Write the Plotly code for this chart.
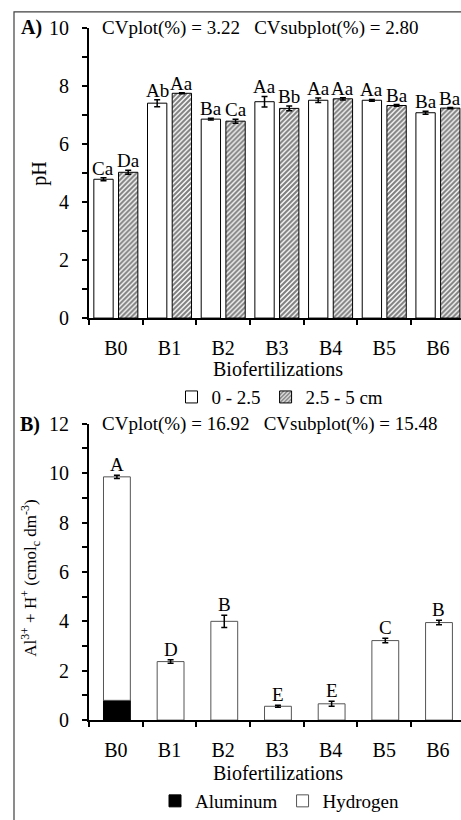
import plotly.graph_objects as go

categories = ["B0", "B1", "B2", "B3", "B4", "B5", "B6"]

# Panel A: pH
ph_0_25 = [4.78, 7.40, 6.85, 7.45, 7.50, 7.50, 7.07]
ph_0_25_err = [0.05, 0.12, 0.03, 0.18, 0.08, 0.03, 0.05]
ph_25_5 = [5.02, 7.74, 6.78, 7.22, 7.55, 7.32, 7.23]
ph_25_5_err = [0.07, 0.02, 0.07, 0.08, 0.04, 0.03, 0.02]
ph_letters_0_25 = ["Ca", "Ab", "Ba", "Aa", "Aa", "Aa", "Ba"]
ph_letters_25_5 = ["Da", "Aa", "Ca", "Bb", "Aa", "Ba", "Ba"]
ph_ticks = [0, 2, 4, 6, 8, 10]

# Panel B: Al3+ + H+
aluminum = [0.80, 0, 0, 0, 0, 0, 0]
hydrogen = [9.05, 2.37, 4.00, 0.56, 0.66, 3.22, 3.95]
total_err = [0.07, 0.07, 0.25, 0.04, 0.10, 0.09, 0.09]
acid_letters = ["A", "D", "B", "E", "E", "C", "B"]
acid_ticks = [0, 2, 4, 6, 8, 10, 12]

FONT = "Liberation Serif, Times New Roman, serif"
W, H = 461, 820

def px_x(p):
    return p / W

def px_y(p):
    return 1 - p / H

fig = go.Figure()

# style constants for grouped bars
bw = 0.36
off_a = -0.41
off_b = 0.05

fig.add_trace(go.Bar(
    x=categories, y=ph_0_25, name="0 - 2.5", xaxis="x", yaxis="y",
    width=bw, offset=off_a,
    marker=dict(color="white", line=dict(color="black", width=1)),
    error_y=dict(type="data", array=ph_0_25_err, color="black", thickness=1.5, width=3),
    legend="legend",
))
fig.add_trace(go.Bar(
    x=categories, y=ph_25_5, name="2.5 - 5 cm", xaxis="x", yaxis="y",
    width=bw, offset=off_b,
    marker=dict(color="white", line=dict(color="black", width=1),
                pattern=dict(shape="/", fgcolor="black", bgcolor="white", size=3.5, solidity=0.6)),
    error_y=dict(type="data", array=ph_25_5_err, color="black", thickness=1.5, width=3),
    legend="legend",
))

# Panel B bars
bw2 = 0.5
tot = [a + h for a, h in zip(aluminum, hydrogen)]
fig.add_trace(go.Bar(
    x=categories, y=aluminum, name="Aluminum", xaxis="x2", yaxis="y2",
    width=bw2, offset=-0.23,
    marker=dict(color="black", line=dict(color="black", width=1)),
    legend="legend2",
))
fig.add_trace(go.Bar(
    x=categories, y=hydrogen, base=aluminum, name="Hydrogen", xaxis="x2", yaxis="y2",
    width=bw2, offset=-0.23,
    marker=dict(color="white", line=dict(color="#555", width=1)),
    error_y=dict(type="data", array=total_err, color="black", thickness=1.5, width=3),
    legend="legend2",
))

annotations = []
for i in range(len(categories)):
    annotations.append(dict(
        x=i + off_a + bw / 2, y=ph_0_25[i] + ph_0_25_err[i], xref="x", yref="y",
        text=ph_letters_0_25[i], showarrow=False, yanchor="bottom",
        font=dict(family=FONT, size=19, color="black"), yshift=-3))
    annotations.append(dict(
        x=i + off_b + bw / 2, y=ph_25_5[i] + ph_25_5_err[i], xref="x", yref="y",
        text=ph_letters_25_5[i], showarrow=False, yanchor="bottom",
        font=dict(family=FONT, size=19, color="black"), yshift=-3))
    annotations.append(dict(
        x=i - 0.23 + bw2 / 2, y=tot[i] + total_err[i], xref="x2", yref="y2",
        text=acid_letters[i], showarrow=False, yanchor="bottom",
        font=dict(family=FONT, size=19, color="black"), yshift=-2))

def txt(x, y, text, size=20, xanchor="center", yanchor="middle", angle=0, bold=False):
    if bold:
        text = "<b>" + text + "</b>"
    annotations.append(dict(
        x=px_x(x), y=px_y(y), xref="paper", yref="paper", text=text, showarrow=False,
        xanchor=xanchor, yanchor=yanchor, textangle=angle,
        font=dict(family=FONT, size=size, color="black")))

txt(31, 28, "A)", size=20, bold=True)
txt(100, 28, "CVplot(%) = 3.22&nbsp;&nbsp;&nbsp;CVsubplot(%) = 2.80", size=19, xanchor="left")
txt(40, 176, "pH", angle=-90)
txt(278, 374, "Biofertilizations")
txt(30, 430, "B)", size=20, bold=True)
txt(100, 429, "CVplot(%) = 16.92&nbsp;&nbsp;&nbsp;CVsubplot(%) = 15.48", size=19, xanchor="left")
txt(31, 585, "Al<sup>3+</sup> + H<sup>+</sup> (cmol<sub>c</sub> dm<sup>-3</sup>)", size=17, angle=-90)
txt(278, 783, "Biofertilizations")

x_left = px_x(89)
xrange = [-0.5, 6.43]
axis_font = dict(family=FONT, size=20, color="black")

xaxis_common = dict(
    type="category", categoryorder="array", categoryarray=categories,
    range=xrange, showline=True, linecolor="black", linewidth=2,
    ticks="outside", ticklen=5, tickwidth=2, tickcolor="black", tickson="boundaries",
    showgrid=False, zeroline=False, tickfont=axis_font, automargin=False,
    ticklabelstandoff=11,
)
yaxis_common = dict(
    showline=True, linecolor="black", linewidth=2,
    ticks="outside", ticklen=5, tickwidth=2, tickcolor="black",
    showgrid=False, zeroline=False, tickfont=axis_font, automargin=False,
    minor=dict(dtick=1, ticks="outside", ticklen=5, tickwidth=2, tickcolor="black", showgrid=False),
    ticklabelstandoff=9,
)

legend_font = dict(family=FONT, size=19, color="black")

fig.update_layout(
    width=W, height=H,
    margin=dict(l=0, r=0, t=0, b=0),
    paper_bgcolor="white", plot_bgcolor="white",
    barmode="overlay",
    font=dict(family=FONT, size=19, color="black"),
    xaxis=dict(domain=[x_left, 1], anchor="y", **xaxis_common),
    yaxis=dict(domain=[px_y(322), px_y(28)], anchor="x", range=[0, 10],
               tickvals=ph_ticks, **yaxis_common),
    xaxis2=dict(domain=[x_left, 1], anchor="y2", **xaxis_common),
    yaxis2=dict(domain=[px_y(729), px_y(429)], anchor="x2", range=[0, 12],
                tickvals=acid_ticks, **yaxis_common),
    legend=dict(orientation="h", x=px_x(280), y=px_y(402), xanchor="center", yanchor="middle",
                font=legend_font, itemwidth=30,
                bgcolor="rgba(0,0,0,0)", traceorder="normal"),
    legend2=dict(orientation="h", x=px_x(280), y=px_y(811), xanchor="center", yanchor="middle",
                 font=legend_font, itemwidth=30,
                 bgcolor="rgba(0,0,0,0)", traceorder="normal"),
    annotations=annotations,
    shapes=[dict(type="rect", xref="paper", yref="paper",
                 x0=px_x(14), x1=1.2, y0=-0.2, y1=px_y(12),
                 line=dict(color="#404040", width=1.2), layer="below")],
    showlegend=True,
)

fig.write_html("out.html", config={"displayModeBar": False},
               post_script="document.body.style.margin='0';document.body.style.overflow='hidden';")
